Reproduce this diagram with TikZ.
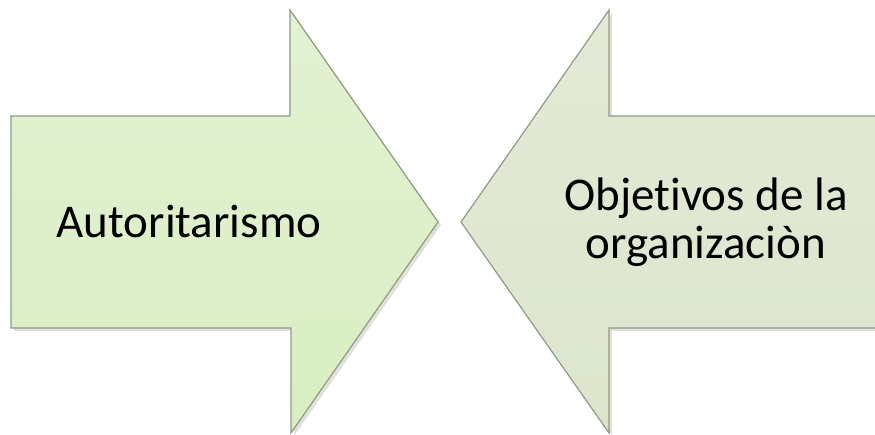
\documentclass[tikz,border=0pt]{standalone}
\usepackage{fontspec}
\setmainfont[Ligatures={NoCommon}]{Carlito}
\definecolor{leftfill}{HTML}{D9EEC3}
\definecolor{leftfilltop}{HTML}{E2F2D2}
\definecolor{rightfill}{HTML}{DCE5CC}
\definecolor{rightfilltop}{HTML}{E3EAD7}
\definecolor{edgec}{HTML}{8E9C82}
\begin{document}
\begin{tikzpicture}[x=1pt,y=-1pt,
  arrowshape/.style={draw=edgec,line width=1.2pt,line join=miter},
  shadowshape/.style={fill=black,opacity=0.12,draw=none},
  lbl/.style={font=\fontsize{47}{48}\selectfont,align=center,text=black,inner sep=0pt}]
\useasboundingbox (0,0) rectangle (875,435);
% shadows
\fill[shadowshape] (14,119) -- (293,119) -- (293,13) -- (441,225) -- (294,436) -- (294,331) -- (14,331) -- cycle;
\fill[shadowshape] (880,119) -- (612,119) -- (612,13) -- (464,225) -- (612,436) -- (612,331) -- (880,331) -- cycle;
% left arrow
\draw[arrowshape,top color=leftfilltop,bottom color=leftfill]
  (11,116) -- (290,116) -- (290,10) -- (438,222) -- (291,433) -- (291,328) -- (11,328) -- cycle;
% right arrow
\draw[arrowshape,top color=rightfilltop,bottom color=rightfill]
  (880,116) -- (609,116) -- (609,10) -- (461,222) -- (609,433) -- (609,328) -- (880,328) -- cycle;
\node[lbl] (auto) at (189,222) {Autoritarismo};
\node[lbl] (obj) at (706,222) {Objetivos de la\\organizaciòn};
\end{tikzpicture}
\end{document}
